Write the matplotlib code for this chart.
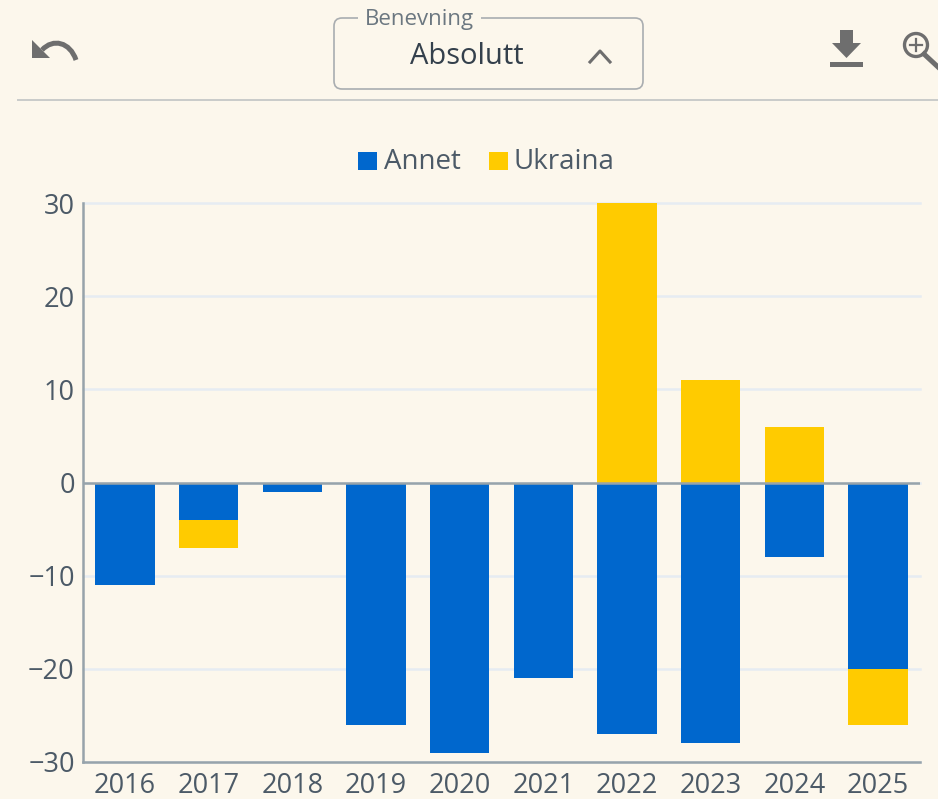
#!/usr/bin/env python3
import matplotlib
matplotlib.use("Agg")
import matplotlib.pyplot as plt
from matplotlib.patches import Circle, FancyBboxPatch, Polygon, Rectangle
from matplotlib.path import Path
from matplotlib.patches import PathPatch

years = ["2016", "2017", "2018", "2019", "2020", "2021", "2022", "2023", "2024", "2025"]
annet = [-11, -4, -1, -26, -29, -21, -27, -28, -8, -20]
ukraina = [0, -3, 0, 0, 0, 0, 30, 11, 6, -6]
y_ticks = [-30, -20, -10, 0, 10, 20, 30]

BG = "#fcf7ec"
BLUE = "#0067cd"
YELLOW = "#ffcb00"
TEXT = "#4c5a67"
ICON = "#6e6e6e"
W, H = 938, 799

plt.rcParams["font.family"] = ["Open Sans", "DejaVu Sans"]


def draw_toolbar(ov):
    # undo arrow
    arc = Path([(42, 50), (53, 38), (70, 42), (76, 60)],
               [Path.MOVETO, Path.CURVE4, Path.CURVE4, Path.CURVE4])
    ov.add_patch(PathPatch(arc, fc="none", ec=ICON, lw=3.6))
    ov.add_patch(Polygon([(32, 40), (32, 58), (50, 58)], fc=ICON, ec="none"))

    # select box
    ov.add_patch(FancyBboxPatch((339, 23), 299, 61, boxstyle="round,pad=5,rounding_size=8",
                                fc="none", ec="#a9adb0", lw=1.2))
    ov.add_patch(Rectangle((358, 14), 123, 10, fc=BG, ec="none", zorder=3))
    ov.text(419.5, 19, "Benevning", fontsize=16, color="#6b7780", ha="center", va="center", zorder=4)
    ov.text(467, 56, "Absolutt", fontsize=21, color="#34404c", ha="center", va="center")
    ov.plot([590, 600, 610], [62, 51, 62], color=ICON, lw=2.2)

    # download icon
    ov.add_patch(Polygon([(840, 30), (853, 30), (853, 43), (861, 43), (846.5, 58), (832, 43), (840, 43)],
                         fc=ICON, ec="none"))
    ov.add_patch(Rectangle((830, 62), 33, 5, fc=ICON, ec="none"))

    # zoom icon, cut by the right edge
    ov.add_patch(Circle((916, 45), 11.5, fc="none", ec=ICON, lw=2.4))
    ov.plot([924, 938], [54, 67], color=ICON, lw=3.6)
    ov.plot([910, 922], [45, 45], color=ICON, lw=1.6)
    ov.plot([916, 916], [39, 51], color=ICON, lw=1.6)

    # divider
    ov.plot([18, 938], [100, 100], color="#c9cbca", lw=1.4)

    # legend
    ov.add_patch(Rectangle((358, 152), 19, 18, fc=BLUE, ec="none"))
    ov.text(384, 162, "Annet", fontsize=20, color=TEXT, ha="left", va="center")
    ov.add_patch(Rectangle((489, 152), 19, 18, fc=YELLOW, ec="none"))
    ov.text(514, 162, "Ukraina", fontsize=20, color=TEXT, ha="left", va="center")


def main():
    fig = plt.figure(figsize=(W / 100, H / 100), dpi=100, facecolor=BG)

    ax = fig.add_axes([83 / W, 1 - 762 / H, (920 - 83) / W, (762 - 203) / H], facecolor=BG)
    xs = list(range(len(years)))
    # stack each series from zero, or on Annet when both have the same sign
    bottoms = [a if a * u > 0 else 0 for a, u in zip(annet, ukraina)]
    ax.bar(xs, annet, width=0.71, color=BLUE, zorder=2)
    ax.bar(xs, ukraina, width=0.71, bottom=bottoms, color=YELLOW, zorder=2)

    ax.set_xlim(-0.5, 9.5)
    ax.set_ylim(-30, 30)
    ax.set_xticks(xs)
    ax.set_xticklabels(years)
    ax.set_yticks(y_ticks)
    ax.set_yticklabels([str(t).replace("-", "\u2212") for t in y_ticks])
    ax.tick_params(axis="both", length=0, labelsize=19.5, labelcolor=TEXT)
    ax.tick_params(axis="x", pad=7)
    ax.tick_params(axis="y", pad=6)
    ax.grid(axis="y", color="#e6ecf2", lw=1.8, zorder=0, clip_on=False)
    ax.set_axisbelow(True)
    for side in ["top", "right"]:
        ax.spines[side].set_visible(False)
    for side in ["left", "bottom"]:
        ax.spines[side].set_color("#97a3aa")
        ax.spines[side].set_linewidth(1.8)
    ax.axhline(0, color="#97a3aa", lw=1.8, zorder=3)

    ov = fig.add_axes([0, 0, 1, 1], facecolor="none")
    ov.set_xlim(0, W)
    ov.set_ylim(H, 0)
    ov.axis("off")
    draw_toolbar(ov)

    fig.savefig("out.png", dpi=100, facecolor=BG)
    plt.close(fig)


if __name__ == "__main__":
    main()
